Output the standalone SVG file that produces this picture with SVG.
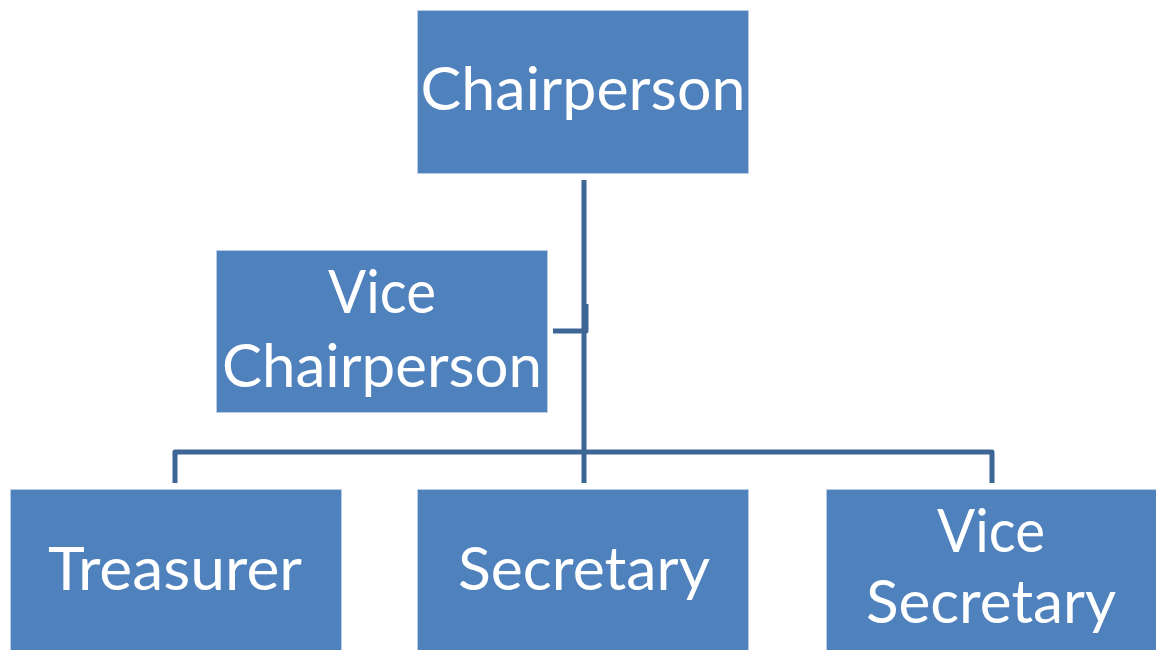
<svg xmlns="http://www.w3.org/2000/svg" width="1156" height="650" viewBox="0 0 1156 650">
  <style>
    .box { fill: #4F81BD; stroke: #B9CDE5; stroke-width: 1; }
    .label { fill: #FFFFFF; font-family: Lato, "Open Sans", "Liberation Sans", sans-serif; font-size: 60px; text-anchor: middle; }
    .conn { fill: none; stroke: #3D6696; stroke-width: 5; stroke-linejoin: round; }
  </style>
  <rect width="1156" height="650" fill="#FFFFFF"/>

  <!-- connectors -->
  <g id="connectors">
    <path class="conn" d="M584 180 V452"/>
    <path class="conn" d="M553 331 H586 V304"/>
    <path class="conn" d="M175 483 V452 H992 V483"/>
    <path class="conn" d="M584 452 V483"/>
  </g>

  <g id="chairperson">
    <rect class="box" x="417.5" y="10.5" width="331" height="163"/>
    <text class="label" x="583" y="110" textLength="325" lengthAdjust="spacingAndGlyphs">Chairperson</text>
  </g>

  <g id="vice-chairperson">
    <rect class="box" x="216.5" y="250.5" width="331" height="162"/>
    <text class="label" x="382" y="313" textLength="108" lengthAdjust="spacingAndGlyphs">Vice</text>
    <text class="label" x="382" y="387" textLength="320" lengthAdjust="spacingAndGlyphs">Chairperson</text>
  </g>

  <g id="treasurer">
    <rect class="box" x="10.5" y="489.5" width="331" height="170"/>
    <text class="label" x="175" y="590" textLength="254" lengthAdjust="spacingAndGlyphs">Treasurer</text>
  </g>

  <g id="secretary">
    <rect class="box" x="417.5" y="489.5" width="331" height="170"/>
    <text class="label" x="584" y="590" textLength="252" lengthAdjust="spacingAndGlyphs">Secretary</text>
  </g>

  <g id="vice-secretary">
    <rect class="box" x="826.5" y="489.5" width="340" height="170"/>
    <text class="label" x="991" y="552" textLength="108" lengthAdjust="spacingAndGlyphs">Vice</text>
    <text class="label" x="991" y="623" textLength="250" lengthAdjust="spacingAndGlyphs">Secretary</text>
  </g>
</svg>
